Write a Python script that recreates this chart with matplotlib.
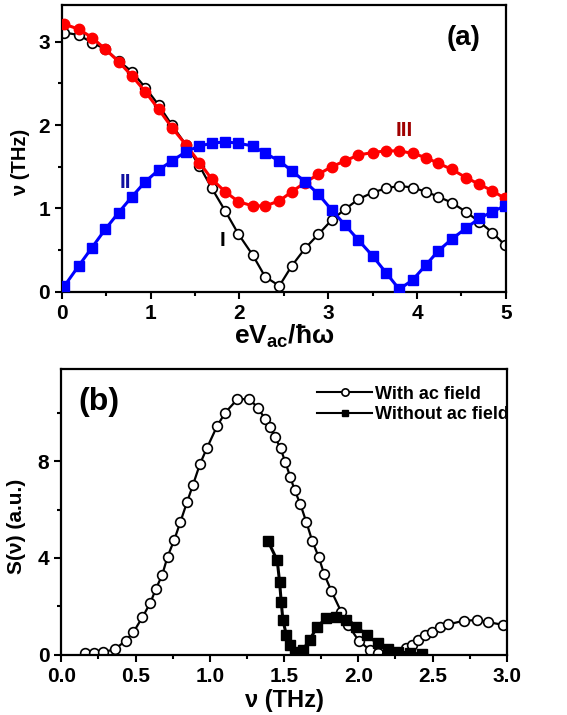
import numpy as np
import matplotlib
matplotlib.use("Agg")
import matplotlib.pyplot as plt
from matplotlib.ticker import MultipleLocator

plt.rcParams['font.family'] = ['Liberation Sans', 'DejaVu Sans']
plt.rcParams['font.weight'] = 'bold'
plt.rcParams['mathtext.fontset'] = 'custom'
plt.rcParams['mathtext.rm'] = 'Liberation Sans:bold'
plt.rcParams['mathtext.bf'] = 'Liberation Sans:bold'
plt.rcParams['mathtext.it'] = 'Liberation Sans:bold:italic'

# -----------------------------
# (a) frequencies vs eV_ac / hbar omega
# -----------------------------
xa = [0.03, 0.19, 0.34, 0.49, 0.64, 0.79, 0.94, 1.09, 1.24, 1.40, 1.55, 1.69,
      1.84, 1.99, 2.15, 2.29, 2.45, 2.59, 2.74, 2.89, 3.04, 3.19, 3.34, 3.50,
      3.65, 3.80, 3.95, 4.10, 4.24, 4.39, 4.55, 4.70, 4.85, 4.99]

curve_I = [3.11, 3.08, 2.99, 2.91, 2.77, 2.64, 2.45, 2.24, 2.00, 1.76, 1.51, 1.24,
           0.97, 0.69, 0.44, 0.18, 0.07, 0.31, 0.52, 0.69, 0.86, 0.99, 1.11, 1.19,
           1.24, 1.27, 1.25, 1.20, 1.14, 1.07, 0.96, 0.84, 0.71, 0.56]

curve_II = [0.07, 0.31, 0.53, 0.75, 0.95, 1.14, 1.32, 1.46, 1.57, 1.68, 1.75, 1.78,
            1.80, 1.78, 1.75, 1.66, 1.57, 1.45, 1.32, 1.17, 0.98, 0.80, 0.62, 0.43,
            0.23, 0.03, 0.14, 0.32, 0.49, 0.63, 0.76, 0.88, 0.96, 1.03]

curve_III = [3.21, 3.15, 3.05, 2.91, 2.76, 2.59, 2.40, 2.19, 1.97, 1.76, 1.55, 1.35,
             1.20, 1.08, 1.03, 1.03, 1.09, 1.20, 1.31, 1.41, 1.50, 1.57, 1.64, 1.67,
             1.69, 1.69, 1.66, 1.61, 1.54, 1.47, 1.37, 1.29, 1.21, 1.12]

# -----------------------------
# (b) spectra
# -----------------------------
nu_with = [0.158, 0.221, 0.284, 0.360, 0.434, 0.486, 0.547, 0.599, 0.637, 0.680,
           0.716, 0.761, 0.801, 0.846, 0.887, 0.934, 0.981, 1.049, 1.103, 1.184,
           1.267, 1.323, 1.373, 1.404, 1.438, 1.476, 1.508, 1.542, 1.571, 1.609,
           1.650, 1.690, 1.733, 1.769, 1.819, 1.886, 1.931, 2.003, 2.077, 2.129,
           2.190, 2.269, 2.320, 2.359, 2.404, 2.449, 2.498, 2.550, 2.606, 2.708,
           2.798, 2.876, 2.977]
s_with = [0.07, 0.09, 0.12, 0.23, 0.59, 0.94, 1.56, 2.14, 2.72, 3.31,
          4.06, 4.75, 5.47, 6.29, 7.02, 7.88, 8.54, 9.44, 9.99, 10.54,
          10.57, 10.19, 9.74, 9.39, 9.00, 8.53, 7.96, 7.34, 6.80, 6.23,
          5.48, 4.70, 4.04, 3.35, 2.63, 1.76, 1.24, 0.58, 0.21, 0.10,
          0.04, 0.04, 0.28, 0.41, 0.62, 0.83, 0.96, 1.16, 1.26, 1.41,
          1.44, 1.35, 1.24]

nu_without = [1.391, 1.454, 1.470, 1.481, 1.492, 1.515, 1.537, 1.571, 1.627, 1.672,
              1.724, 1.785, 1.852, 1.920, 1.987, 2.055, 2.129, 2.201, 2.269, 2.347,
              2.431]
s_without = [4.71, 3.90, 3.00, 2.17, 1.45, 0.83, 0.41, 0.14, 0.21, 0.62,
             1.17, 1.52, 1.58, 1.45, 1.17, 0.83, 0.48, 0.23, 0.14, 0.07,
             0.04]

fig = plt.figure(figsize=(5.67, 7.15), dpi=100)
ax1 = fig.add_axes([0.109, 0.592, 0.783, 0.401])
ax2 = fig.add_axes([0.108, 0.084, 0.786, 0.400])

def style_axes(ax):
    for sp in ax.spines.values():
        sp.set_linewidth(1.6)
    ax.tick_params(which='both', direction='out', width=1.5, top=False, right=False,
                   labelsize=15)
    ax.tick_params(which='major', length=5)
    ax.tick_params(which='minor', length=3)
    for lab in ax.get_xticklabels() + ax.get_yticklabels():
        lab.set_fontweight('heavy')

# ---- panel (a)
ax1.plot(xa, curve_I, '-o', color='black', lw=1.6, ms=7, mfc='white', mec='black',
         mew=1.2, zorder=2)
ax1.plot(xa, curve_III, '-o', color='red', lw=2.2, ms=7.5, mfc='red', mec='red', zorder=3)
ax1.plot(xa, curve_II, '-s', color='blue', lw=2.2, ms=7, mfc='blue', mec='blue', zorder=4)

ax1.set_xlim(0, 5)
ax1.set_ylim(0, 3.44)
ax1.xaxis.set_major_locator(MultipleLocator(1))
ax1.xaxis.set_minor_locator(MultipleLocator(0.5))
ax1.yaxis.set_major_locator(MultipleLocator(1))
ax1.yaxis.set_minor_locator(MultipleLocator(0.5))
style_axes(ax1)
ax1.set_xlabel(r'$\mathbf{eV_{ac}/\hbar\omega}$', fontsize=19, labelpad=0)
ax1.set_ylabel('ν (THz)', fontsize=14.5, fontweight='bold')
ax1.yaxis.set_label_coords(-0.072, 0.45)

ax1.text(3.86, 1.94, 'III', color='#a00000', fontsize=15, fontweight='bold',
         ha='center', va='center')
ax1.text(0.72, 1.31, 'II', color='#1010a0', fontsize=15, fontweight='bold',
         ha='center', va='center')
ax1.text(1.81, 0.62, 'I', color='black', fontsize=15, fontweight='bold',
         ha='center', va='center')
ax1.text(0.905, 0.885, '(a)', transform=ax1.transAxes, fontsize=20,
         ha='center', va='center')

# ---- panel (b)
ax2.plot(nu_with, s_with, '-o', color='black', lw=1.6, ms=7, mfc='white', mec='black',
         mew=1.2, label='With ac field', zorder=2)
ax2.plot(nu_without, s_without, '-s', color='black', lw=2.2, ms=6.5, mfc='black',
         mec='black', label='Without ac field', zorder=3)

ax2.set_xlim(0, 3.0)
ax2.set_ylim(0, 11.8)
ax2.xaxis.set_major_locator(MultipleLocator(0.5))
ax2.xaxis.set_minor_locator(MultipleLocator(0.25))
ax2.yaxis.set_major_locator(MultipleLocator(4))
ax2.yaxis.set_minor_locator(MultipleLocator(2))
ax2.xaxis.set_major_formatter(matplotlib.ticker.FormatStrFormatter('%.1f'))
style_axes(ax2)
ax2.set_xlabel('ν (THz)', fontsize=17, fontweight='bold', labelpad=2)
ax2.set_ylabel('S(ν) (a.u.)', fontsize=15, fontweight='bold')
ax2.yaxis.set_label_coords(-0.08, 0.45)

ax2.text(0.085, 0.885, '(b)', transform=ax2.transAxes, fontsize=23,
         ha='center', va='center')

leg = ax2.legend(loc='upper left', bbox_to_anchor=(0.575, 0.942), frameon=False,
                 fontsize=13, handlelength=3.0, handletextpad=0.2, labelspacing=0.2,
                 markerscale=0.75, borderaxespad=0, borderpad=0)
for t in leg.get_texts():
    t.set_fontweight('bold')
for h in leg.get_lines():
    h.set_linewidth(1.5)

fig.savefig('out.png', dpi=100)
